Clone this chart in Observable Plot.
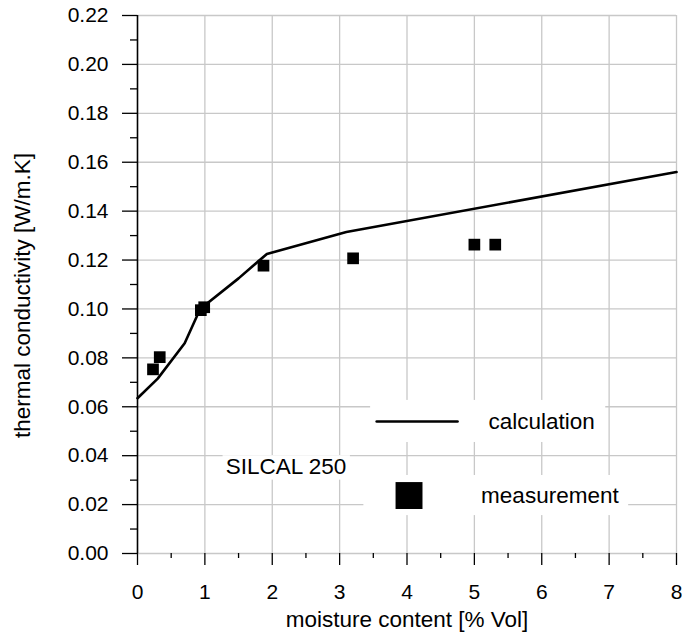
<!DOCTYPE html>
<html>
<head>
<meta charset="utf-8">
<script src="https://cdn.jsdelivr.net/npm/d3@7"></script>
<script src="https://cdn.jsdelivr.net/npm/@observablehq/plot@0.6"></script>
<style>
  html, body { margin: 0; padding: 0; background: #fff; }
  #chart { width: 682px; height: 632px; overflow: hidden; }
</style>
</head>
<body>
<div id="chart"></div>
<script>
// ---- data ----
const calcMoisture = [0, 0.3, 0.7, 0.93, 1.5, 1.92, 3.1, 8];
const calcConductivity = [0.0635, 0.0715, 0.086, 0.1, 0.1125, 0.1225, 0.1315, 0.156];

const measMoisture = [0.23, 0.33, 0.94, 0.99, 1.87, 3.2, 5.0, 5.31];
const measConductivity = [0.0753, 0.0803, 0.0995, 0.1007, 0.1177, 0.1207, 0.1263, 0.1263];

const xMajorTicks = [0, 1, 2, 3, 4, 5, 6, 7, 8];
const xMinorTicks = [0.5, 1.5, 2.5, 3.5, 4.5, 5.5, 6.5, 7.5];
const yMajorTicks = [0, 0.02, 0.04, 0.06, 0.08, 0.10, 0.12, 0.14, 0.16, 0.18, 0.20, 0.22];
const yMinorTicks = [0.01, 0.03, 0.05, 0.07, 0.09, 0.11, 0.13, 0.15, 0.17, 0.19, 0.21];

const seriesLabels = ["calculation", "measurement"];
const annotationText = "SILCAL 250";
const xTitle = "moisture content [% Vol]";
const yTitle = "thermal conductivity [W/m.K]";

// ---- tables built from the arrays ----
const calc = calcMoisture.map((m, i) => ({m, k: calcConductivity[i]}));
const meas = measMoisture.map((m, i) => ({m, k: measConductivity[i]}));

// legend / annotation placement (in data units)
const legendBoxes = [
  {x1: 3.46, x2: 6.95, y1: 0.0454, y2: 0.0626},
  {x1: 3.36, x2: 7.29, y1: 0.0155, y2: 0.0319},
  {x1: 1.27, x2: 3.16, y1: 0.0300, y2: 0.0400}
];
const legendLine = [{m: 3.55, k: 0.054}, {m: 4.75, k: 0.054}];
const legendSquare = [{m: 4.03, k: 0.0237}];
const legendTexts = [
  {m: 5.21, k: 0.054, t: seriesLabels[0]},
  {m: 5.10, k: 0.0237, t: seriesLabels[1]},
  {m: 1.31, k: 0.0353, t: annotationText}
];

const FONT = "'Liberation Sans', Arial, Helvetica, sans-serif";
const GRID = "#c8c8c8";

const chart = Plot.plot({
  width: 682,
  height: 632,
  marginLeft: 137,
  marginRight: 6,
  marginTop: 15,
  marginBottom: 79,
  style: {fontFamily: FONT, background: "#fff", color: "#000", overflow: "visible"},
  x: {domain: [0, 8], label: null},
  y: {domain: [0, 0.22], label: null},
  marks: [
    Plot.gridY(yMajorTicks, {stroke: GRID, strokeOpacity: 1, strokeWidth: 1.3}),
    Plot.gridX(xMajorTicks.slice(1), {stroke: GRID, strokeOpacity: 1, strokeWidth: 1.3}),
    Plot.rect(legendBoxes, {x1: "x1", x2: "x2", y1: "y1", y2: "y2", fill: "#fff"}),
    // axes
    Plot.axisY(yMajorTicks, {tickSize: 15, tickPadding: 14, tickFormat: d3.format(".2f"), fontSize: 21, stroke: "#000", strokeWidth: 1.3}),
    Plot.axisY(yMinorTicks, {tickSize: 7, text: null, stroke: "#000", strokeWidth: 1.3}),
    Plot.axisX(xMajorTicks, {tickSize: 12, tickPadding: 19, tickFormat: d3.format("d"), fontSize: 21, stroke: "#000", strokeWidth: 1.3}),
    Plot.axisX(xMinorTicks, {tickSize: 5, text: null, stroke: "#000", strokeWidth: 1.3}),
    Plot.ruleX([0], {stroke: "#000", strokeWidth: 1.6}),
    // data
    Plot.line(calc, {x: "m", y: "k", stroke: "#000", strokeWidth: 2.6}),
    Plot.dot(meas, {x: "m", y: "k", symbol: "square", r: 6.6, fill: "#000", stroke: "none"}),
    // legend
    Plot.line(legendLine, {x: "m", y: "k", stroke: "#000", strokeWidth: 2.6}),
    Plot.dot(legendSquare, {x: "m", y: "k", symbol: "square", r: 15.2, fill: "#000", stroke: "none"}),
    Plot.text(legendTexts, {x: "m", y: "k", text: "t", textAnchor: "start", fontSize: 22.5, fill: "#000"}),
    // axis titles
    Plot.text([xTitle], {frameAnchor: "bottom", dy: 66, fontSize: 22.5, fill: "#000", textAnchor: "middle", lineAnchor: "middle"}),
    Plot.text([yTitle], {frameAnchor: "left", dx: -115, dy: 11, rotate: -90, fontSize: 22.5, fill: "#000", textAnchor: "middle", lineAnchor: "middle"})
  ]
});
document.getElementById("chart").appendChild(chart);
</script>
</body>
</html>
